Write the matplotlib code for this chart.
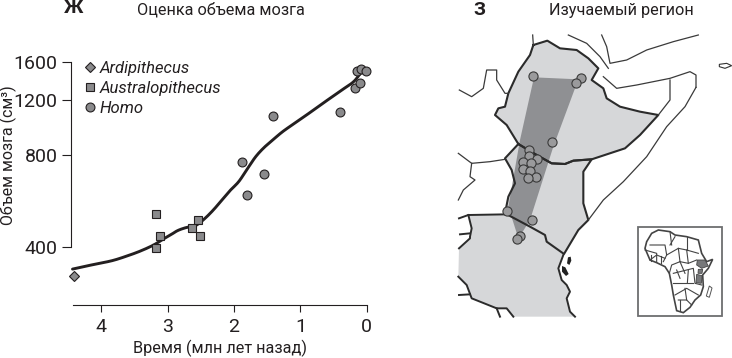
import matplotlib
matplotlib.use("Agg")
import matplotlib.pyplot as plt
import numpy as np
from matplotlib.patches import Polygon, Rectangle

plt.rcParams['font.family'] = ['Roboto', 'DejaVu Sans']
W, H = 732, 358
DARK = '#231f20'; MARK = '#8a8a8c'; LIGHT = '#d6d7d9'; TRI = '#8f9093'

# --- panel Ж data
ardi_t = [4.40]; ardi_v = [323]
aust_t = [3.18, 3.11, 3.18, 2.63, 2.535, 2.505]
aust_v = [512, 434, 397, 461, 490, 434]
homo_t = [1.88, 1.81, 1.55, 1.41, 0.41, 0.18, 0.11, 0.15, 0.085, 0.015]
homo_v = [755, 591, 692, 1070, 1099, 1318, 1368, 1493, 1519, 1493]
trend_t = [4.43, 4.22, 4.02, 3.815, 3.61, 3.41, 3.21, 3.06, 2.96, 2.86, 2.76, 2.66, 2.56,
           2.435, 2.31, 2.18, 2.06, 1.93, 1.81, 1.68, 1.56, 1.43, 1.255, 1.00, 0.70, 0.40, 0.20, 0.09]
trend_v = [340, 348, 355, 363, 375, 389, 407, 426, 438, 452, 461, 467, 473,
           497, 529, 570, 611, 653, 713, 784, 838, 887, 954, 1041, 1158, 1286, 1379, 1478]
x_ticks = [4, 3, 2, 1, 0]
y_ticks = [400, 800, 1200, 1600]
series_names = ['Ardipithecus', 'Australopithecus', 'Homo']

# --- panel З map geometry (in map units)
ethiopia = [(280,135),(322,122),(360,145),(410,150),(445,175),(475,205),(455,240),(490,265),(500,295),
            (540,320),(600,335),(655,345),(600,405),(555,445),(455,478),(400,482),(375,492),(335,490),
            (290,465),(235,432),(200,375),(165,345),(175,325),(195,320),(205,280),(235,215),(270,165)]
kenya = [(235,432),(290,465),(335,490),(375,492),(400,482),(455,478),(430,515),(430,610),(445,660),
         (415,690),(372,762),(320,725),(315,705),(270,680),(195,640),(205,590),(225,550),(215,510),(195,475)]
tanzania = [(85,645),(200,643),(270,680),(315,705),(320,725),(370,765),(355,805),(365,840),(380,855),
            (390,875),(380,895),(390,935),(405,950),(220,950),(200,925),(170,925),(95,895),(80,855),
            (55,830),(57,745),(90,715),(90,710),(95,685),(90,665)]
zone = [(282,232),(415,238),(340,440),(270,660),(245,700),(232,705),(205,620),(240,420)]
thick_lines = [
    [(370,765),(355,805),(365,840),(380,855),(390,875),(380,895),(390,935),(405,950)],
    [(55,830),(80,855),(95,895),(170,925),(200,925),(220,950)],
    [(57,885),(90,883)],
    [(170,925),(180,950)],
    [(57,655),(85,645),(200,643)],
    [(85,645),(90,665),(95,685),(90,710),(90,715),(57,745)],
    [(60,703),(90,700)],
]
thin_lines = [
    [(278,105),(280,135)],
    [(385,105),(440,130),(480,170),(505,205)],
    [(485,105),(500,140),(510,190),(560,180),(620,150),(700,125),(775,105)],
    [(490,230),(530,265),(590,255),(690,235),(750,215),(768,225),(768,262)],
    [(690,240),(690,300),(655,345)],
    [(768,262),(735,320),(680,380),(620,470),(550,545),(490,600),(445,660)],
    [(58,270),(95,290),(130,265),(140,210),(170,210),(170,240),(195,280),(205,280)],
    [(55,460),(95,490),(150,485),(195,478)],
    [(95,490),(90,530),(105,540),(70,570),(55,600)],
]
islands = [[(384,772),(392,770),(394,782),(388,795),(381,790)],
           [(366,798),(376,802),(386,822),(378,828),(366,815)]]
reunion = [(838,193),(860,190),(875,197),(855,205),(838,200)]
sites_x = [280,424,408,335,268,266,291,249,273,249,271,287,264,201,276,241,231]
sites_y = [228,233,249,427,449,467,476,486,488,508,514,530,535,632,660,707,718]

africa = [(65,40),(85,30),(120,35),(135,45),(170,50),(205,60),(215,100),(230,125),(248,118),(235,145),
          (218,165),(220,200),(212,225),(195,240),(180,262),(160,278),(140,272),(130,225),(125,195),
          (118,160),(105,140),(80,128),(60,120),(45,85),(50,65)]
africa_borders = [
    [(60,75),(105,75),(110,105),(100,125)], [(110,105),(145,85),(170,90),(205,100)], [(120,35),(125,75)],
    [(170,50),(170,90)], [(145,85),(150,125),(125,135),(118,160)], [(170,90),(175,130),(150,125)],
    [(175,130),(200,120)], [(130,160),(190,145),(195,190),(215,195)], [(130,190),(190,190)],
    [(135,225),(170,205),(205,225)], [(165,205),(170,240),(145,240)], [(170,240),(185,255)],
    [(60,120),(80,105),(105,115)], [(150,125),(165,160)],
    [(45,90),(80,100),(80,125)], [(62,105),(62,122)], [(92,108),(92,130)],
    [(140,150),(150,175)], [(175,150),(172,190)], [(150,240),(150,272)], [(135,50),(120,75)],
]
inset_dark = [[(202,120),(225,120),(235,138),(215,145),(200,135)], [(200,163),(216,167),(214,190),(198,188)],
              [(205,148),(218,148),(216,160),(204,160)]]
madagascar = [(238,198),(246,204),(238,232),(229,228)]

fig = plt.figure(figsize=(W/100, H/100), dpi=100)

def box(l, t, r, b):
    return [l/W, 1-b/H, (r-l)/W, (b-t)/H]

def smooth(tv, vv, n=12):
    # Catmull-Rom drawing of the read curve points (log scale in y)
    p = np.column_stack([tv, np.log(vv)])
    p = np.vstack([p[0], p, p[-1]])
    out = []
    for i in range(1, len(p)-2):
        for u in np.linspace(0, 1, n, endpoint=False):
            out.append(0.5*((2*p[i]) + (-p[i-1]+p[i+1])*u + (2*p[i-1]-5*p[i]+4*p[i+1]-p[i+2])*u**2
                            + (-p[i-1]+3*p[i]-3*p[i+1]+p[i+2])*u**3))
    out.append(p[-2])
    out = np.array(out)
    return out[:, 0], np.exp(out[:, 1])

ax = fig.add_axes(box(70.7, 50, 367.2, 305))
ax.set_yscale('log')
ax.set_xlim(4.457, -0.005); ax.set_ylim(260, 1748)
ax.plot(*smooth(trend_t, trend_v), color=DARK, lw=2.1, zorder=2, solid_capstyle='round')
sd = dict(ls='none', mfc=MARK, mec=DARK, mew=0.8, clip_on=False, zorder=3)
h1, = ax.plot(ardi_t, ardi_v, 'D', ms=5.0, label=series_names[0], **sd)
h2, = ax.plot(aust_t, aust_v, 's', ms=5.4, label=series_names[1], **sd)
h3, = ax.plot(homo_t, homo_v, 'o', ms=6.4, label=series_names[2], **sd)
ax.set_xticks(x_ticks); ax.set_xticklabels([str(v) for v in x_ticks])
ax.set_yticks(y_ticks); ax.set_yticklabels([str(v) for v in y_ticks])
ax.minorticks_off()
for s in ('top', 'right'):
    ax.spines[s].set_visible(False)
ax.spines['left'].set_bounds(400, 1600)
ax.spines['bottom'].set_bounds(4.42, 0)
for s in ('left', 'bottom'):
    ax.spines[s].set_linewidth(0.8); ax.spines[s].set_color(DARK)
ax.tick_params(axis='both', direction='out', length=6.5, width=0.8, color=DARK, labelcolor=DARK, labelsize=14)
ax.tick_params(axis='x', length=5, pad=4)
ax.tick_params(axis='y', pad=3)
fig.text(8/W, 1-155/H, 'Объем мозга (см³)', rotation=90, ha='center', va='center', fontsize=11.5, color=DARK)
fig.text(220/W, 1-348/H, 'Время (млн лет назад)', ha='center', va='center', fontsize=11.7, color=DARK)
fig.text(220.5/W, 1-9.5/H, 'Оценка объема мозга', ha='center', va='center', fontsize=11.7, color=DARK)
fig.text(74/W, 1-8/H, 'Ж', ha='center', va='center', fontsize=14, fontweight='bold', color=DARK)
leg = ax.legend(handles=[h1, h2, h3], loc='upper left', bbox_to_anchor=(0.037, 0.957),
                frameon=False, fontsize=12, labelspacing=0.29, handletextpad=0.1, handlelength=1.0,
                borderpad=0, borderaxespad=0, labelcolor=DARK)
for t in leg.get_texts():
    t.set_fontstyle('italic')

m = fig.add_axes([440/W, 0, 292/W, 1])
m.set_xlim(0, 876); m.set_ylim(1074, 0); m.axis('off')
for poly in (ethiopia, kenya, tanzania):
    m.add_patch(Polygon(poly, closed=True, fc=LIGHT, ec='none', zorder=1))
m.add_patch(Polygon(zone, closed=True, fc=TRI, ec='none', zorder=2))
for poly in (ethiopia, kenya):
    xs, ys = zip(*(poly + [poly[0]]))
    m.plot(xs, ys, color='#2b2b2b', lw=1.5, zorder=3, solid_joinstyle='round')
for line in thick_lines:
    m.plot(*zip(*line), color='#2b2b2b', lw=1.4, zorder=3)
for line in thin_lines:
    m.plot(*zip(*line), color='#3a3a3a', lw=0.9, zorder=3)
for isl in islands:
    m.add_patch(Polygon(isl, closed=True, fc='#222222', ec='none', zorder=3))
m.add_patch(Polygon(reunion, closed=True, fc='white', ec='#333333', lw=0.8))
m.plot(sites_x, sites_y, 'o', ms=6.6, mfc='#9a9a9c', mec='#3a3a3a', mew=0.8, zorder=4, ls='none')
m.add_patch(Rectangle((595, 682), 250, 266, fc='white', ec='#6d6e70', lw=1.3, zorder=5))
def inset(p):
    return [(570+x, 660+y) for x, y in p]
m.add_patch(Polygon(inset(africa), closed=True, fc='white', ec='#444444', lw=1.2, zorder=6))
for poly in inset_dark:
    m.add_patch(Polygon(inset(poly), closed=True, fc='#77787a', ec='#444444', lw=0.6, zorder=7))
for line in africa_borders:
    m.plot(*zip(*inset(line)), color='#444444', lw=0.8, zorder=6)
m.add_patch(Polygon(inset(madagascar), closed=True, fc='white', ec='#555555', lw=0.7, zorder=6))
m.text(117, 30, 'З', ha='center', va='center', fontsize=14, fontweight='bold', color=DARK)
m.text(544, 33, 'Изучаемый регион', ha='center', va='center', fontsize=11.7, color=DARK)

fig.savefig('out.png', dpi=100)
